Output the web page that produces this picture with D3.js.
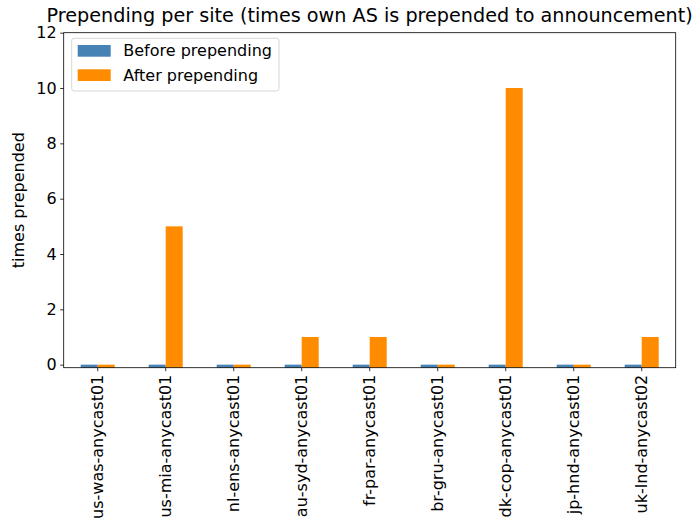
<!DOCTYPE html>
<html>
<head>
<meta charset="utf-8">
<script src="https://cdn.jsdelivr.net/npm/d3@7"></script>
<style>
  html, body { margin: 0; padding: 0; background: #fff; }
  svg { display: block; }
  svg text { font-family: "DejaVu Sans", sans-serif; }
</style>
</head>
<body>
<svg id="chart" width="693" height="528"></svg>
<script>
const sites = ["us-was-anycast01", "us-mia-anycast01", "nl-ens-anycast01", "au-syd-anycast01",
  "fr-par-anycast01", "br-gru-anycast01", "dk-cop-anycast01", "jp-hnd-anycast01", "uk-lnd-anycast02"];
const beforeValues = [0, 0, 0, 0, 0, 0, 0, 0, 0];
const afterValues = [0, 5, 0, 1, 1, 0, 10, 0, 1];
const seriesNames = ["Before prepending", "After prepending"];
const seriesColors = ["#4682b4", "#ff8c00"];
const yTicks = [0, 2, 4, 6, 8, 10, 12];
const titleText = "Prepending per site (times own AS is prepended to announcement)";
const yLabel = "times prepended";

const FONT = "DejaVu Sans, sans-serif";
const FS = 16;
const svg = d3.select("#chart");
const m = { left: 63.7, right: 693 - 675.7, top: 32.7, bottom: 528 - 367.7 };
const W = 693 - m.left - m.right, H = 528 - m.top - m.bottom;
const g = svg.append("g").attr("transform", `translate(${m.left},${m.top})`);

const x = d3.scaleBand().domain(sites).range([0, W]).paddingInner(0.5).paddingOuter(0.25);
const xs = d3.scaleBand().domain([0, 1]).range([0, x.bandwidth()]);
const y = d3.scaleLinear().domain([-0.11, 12]).range([H, 0]);

const series = [beforeValues, afterValues];
series.forEach((vals, si) => {
  g.append("g").selectAll("rect").data(vals).join("rect")
    .attr("x", (d, i) => x(sites[i]) + xs(si))
    .attr("width", xs.bandwidth())
    .attr("y", d => y(d))
    .attr("height", d => y(y.domain()[0]) - y(d))
    .attr("fill", seriesColors[si]);
});

// axes
const xAxis = g.append("g").attr("transform", `translate(0,${H})`)
  .call(d3.axisBottom(x).tickSize(3.5).tickPadding(3.5));
xAxis.selectAll("text")
  .attr("transform", "rotate(-90)")
  .attr("text-anchor", "end")
  .attr("x", -7).attr("y", 0).attr("dy", "0.35em");
const yAxis = g.append("g")
  .call(d3.axisLeft(y).tickValues(yTicks).tickSize(3.5).tickPadding(3.5));
[xAxis, yAxis].forEach(a => {
  a.attr("font-family", FONT).attr("font-size", FS);
  a.select(".domain").remove();
  a.selectAll(".tick line").attr("stroke", "#000").attr("stroke-width", 0.8);
  a.selectAll("text").attr("fill", "#000");
});

// frame
g.append("rect").attr("x", 0).attr("y", 0).attr("width", W).attr("height", H)
  .attr("fill", "none").attr("stroke", "#000").attr("stroke-width", 0.8);

// title
svg.append("text").attr("x", m.left + W / 2).attr("y", 21.5)
  .attr("text-anchor", "middle").attr("font-family", FONT).attr("font-size", 19.2)
  .attr("fill", "#000").text(titleText);

// y label
svg.append("text").attr("transform", `translate(24,${m.top + H / 2}) rotate(-90)`)
  .attr("text-anchor", "middle").attr("font-family", FONT).attr("font-size", FS)
  .attr("fill", "#000").text(yLabel);

// legend
const lg = svg.append("g").attr("transform", "translate(71.7,38.3)");
lg.append("rect").attr("width", 207.3).attr("height", 52.7).attr("rx", 2.5)
  .attr("fill", "#fff").attr("fill-opacity", 0.8).attr("stroke", "#cccccc").attr("stroke-width", 0.8);
seriesNames.forEach((name, i) => {
  lg.append("rect").attr("x", 6).attr("y", 6.7 + i * 24.3).attr("width", 33).attr("height", 11.7)
    .attr("fill", seriesColors[i]);
  lg.append("text").attr("x", 51.6).attr("y", 12.5 + i * 24.3).attr("dy", "0.35em")
    .attr("font-family", FONT).attr("font-size", FS).attr("fill", "#000").text(name);
});
</script>
</body>
</html>
